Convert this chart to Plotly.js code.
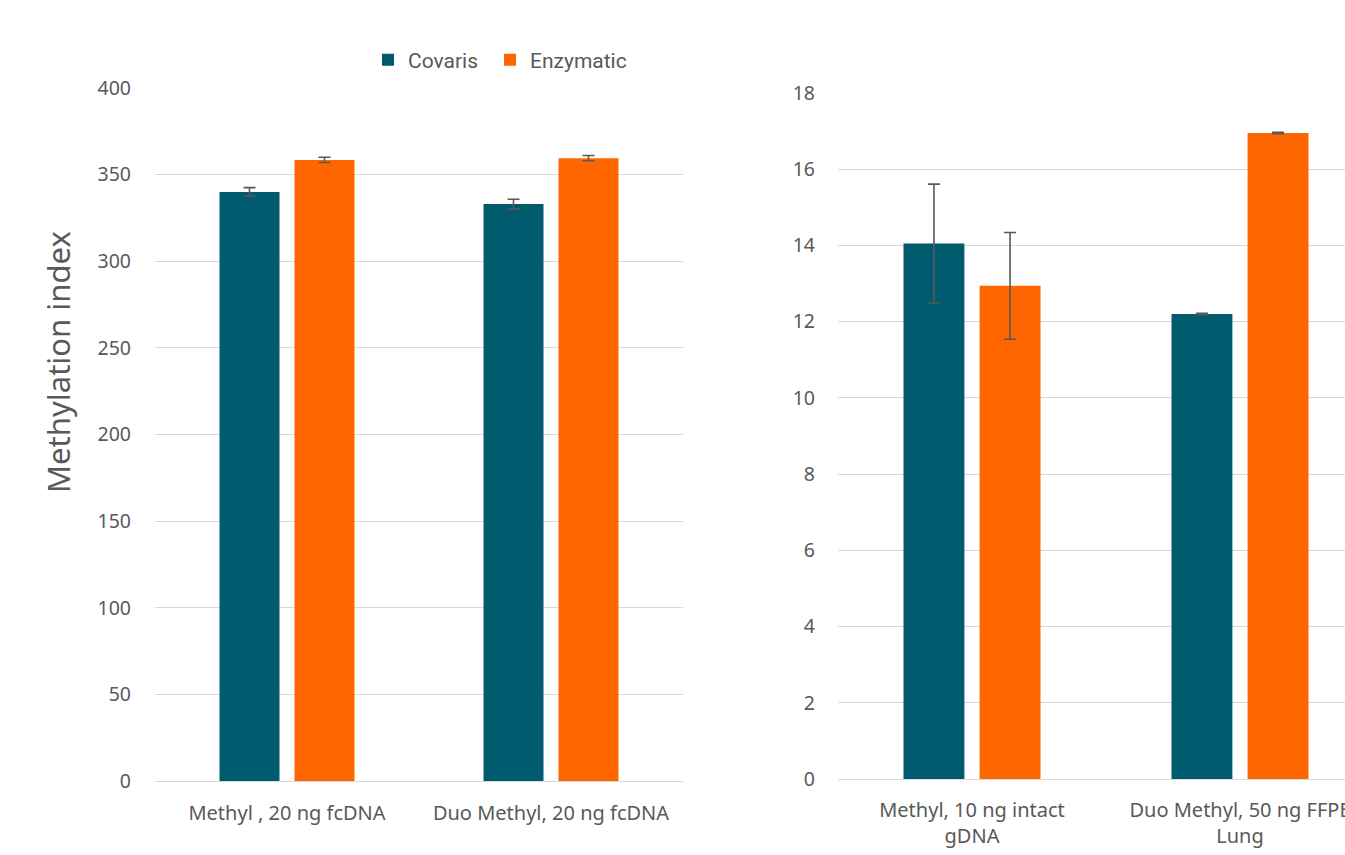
<!DOCTYPE html>
<html>
<head>
<meta charset="utf-8">
<script src="https://cdn.plot.ly/plotly-3.0.1.min.js"></script>
<style>
html, body { margin:0; padding:0; overflow:hidden; background:#fff; width:1345px; height:855px; }
#chart { width:1380px; height:855px; }
</style>
</head>
<body>
<div id="chart"></div>
<script>
// Data
const leftCategories = ["Methyl , 20 ng fcDNA", "Duo Methyl, 20 ng fcDNA"];
const leftCovaris = [340, 333];
const leftCovarisErr = [2.5, 2.8];
const leftEnzymatic = [358.5, 359.5];
const leftEnzymaticErr = [1.5, 1.5];

const rightCategories = ["Methyl, 10 ng intact<br>gDNA", "Duo Methyl, 50 ng FFPE<br>Lung"];
const rightCovaris = [14.05, 12.2];
const rightCovarisErr = [1.56, 0.02];
const rightEnzymatic = [12.94, 16.95];
const rightEnzymaticErr = [1.4, 0.02];

const leftTicks = [0, 50, 100, 150, 200, 250, 300, 350, 400];
const rightTicks = [0, 2, 4, 6, 8, 10, 12, 14, 16, 18];

const teal = "#005B6E";
const orange = "#FF6600";
const errStyle = {color: "#595959", thickness: 1.6, width: 6};

const W = 1380, H = 855;
const px = v => v / W;
const py = v => (H - v) / H;

const traces = [
  {type:"bar", name:"Covaris", x:leftCategories, y:leftCovaris, xaxis:"x", yaxis:"y", legend:"legend",
   marker:{color:teal}, error_y:Object.assign({type:"data", array:leftCovarisErr, visible:true}, errStyle)},
  {type:"bar", name:"Enzymatic", x:leftCategories, y:leftEnzymatic, xaxis:"x", yaxis:"y", legend:"legend2",
   marker:{color:orange}, error_y:Object.assign({type:"data", array:leftEnzymaticErr, visible:true}, errStyle)},
  {type:"bar", name:"Covaris", x:rightCategories, y:rightCovaris, xaxis:"x2", yaxis:"y2", showlegend:false,
   marker:{color:teal}, error_y:Object.assign({type:"data", array:rightCovarisErr, visible:true}, errStyle)},
  {type:"bar", name:"Enzymatic", x:rightCategories, y:rightEnzymatic, xaxis:"x2", yaxis:"y2", showlegend:false,
   marker:{color:orange}, error_y:Object.assign({type:"data", array:rightEnzymaticErr, visible:true}, errStyle)}
];

const tickFont = {family:"Noto Sans, Roboto, sans-serif", size:19.5, color:"#595959"};
const catFont = {family:"Noto Sans, Lato, sans-serif", size:20, color:"#595959"};
const legFont = {family:"Roboto, sans-serif", size:21, color:"#595959"};

const layout = {
  width: W, height: H,
  margin: {l:0, r:0, t:0, b:0},
  paper_bgcolor:"#fff", plot_bgcolor:"#fff",
  barmode:"group", bargap:0.432, bargroupgap:0.2,
  showlegend:true,
  legend:{orientation:"h", x:px(368), xanchor:"left", y:py(60), yanchor:"middle", font:legFont},
  legend2:{orientation:"h", x:px(490), xanchor:"left", y:py(60), yanchor:"middle", font:legFont},
  xaxis:{domain:[px(155), px(683)], anchor:"y", tickfont:catFont, ticks:"", showgrid:false,
         showline:true, linecolor:"#d9d9d9", linewidth:1, ticklabelstandoff:14, fixedrange:true},
  yaxis:{domain:[py(781), py(88)], anchor:"x", range:[0,400], tickvals:leftTicks, tickfont:tickFont,
         showgrid:true, gridcolor:"#d9d9d9", gridwidth:1, zeroline:false, showline:false, ticks:"",
         ticklabelstandoff:23},
  xaxis2:{domain:[px(838), px(1374)], anchor:"y2", tickfont:catFont, ticks:"", showgrid:false,
         showline:true, linecolor:"#d9d9d9", linewidth:1, ticklabelstandoff:13},
  yaxis2:{domain:[py(779), py(93)], anchor:"x2", range:[0,18], tickvals:rightTicks, tickfont:tickFont,
         showgrid:true, gridcolor:"#d9d9d9", gridwidth:1, zeroline:false, showline:false, ticks:"",
         ticklabelstandoff:22},
  annotations:[
    {text:"Methylation index", xref:"paper", yref:"paper", x:px(58), y:py(362), textangle:-90,
     showarrow:false, xanchor:"center", yanchor:"middle",
     font:{family:"Noto Sans, sans-serif", size:31, color:"#595959"}}
  ]
};

Plotly.newPlot("chart", traces, layout, {displayModeBar:false, staticPlot:true});
</script>
</body>
</html>
